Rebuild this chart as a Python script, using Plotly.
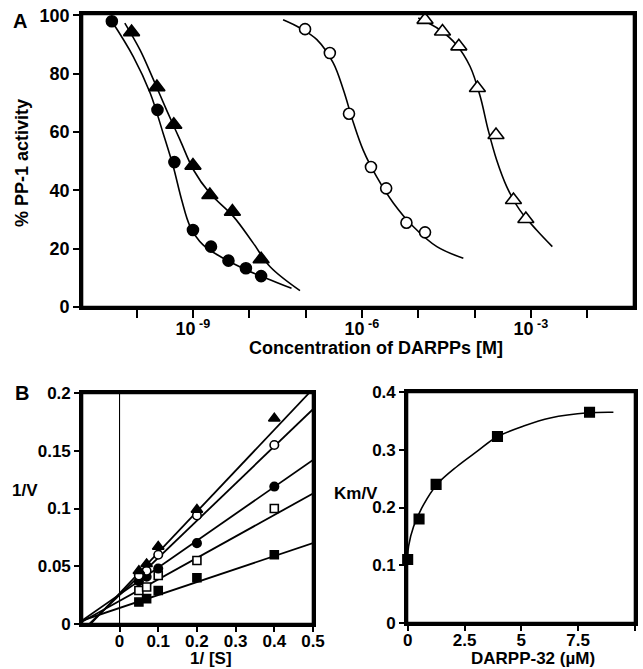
import plotly.graph_objects as go

# ---------------- Panel A data (log10 concentration, % activity) ----------------
a_fc_x = [-10.44, -9.63, -9.33, -9.0, -8.68, -8.37, -8.06, -7.79]
a_fc_y = [98, 67.6, 49.7, 26.4, 20.7, 15.9, 13.3, 10.6]
a_ft_x = [-10.09, -9.64, -9.34, -9.0, -8.70, -8.30, -7.79]
a_ft_y = [94.3, 75.4, 62.5, 48.5, 38.4, 32.7, 16.4]
a_oc_x = [-7.01, -6.57, -6.23, -5.84, -5.57, -5.21, -4.88]
a_oc_y = [95.3, 87.1, 66.3, 48.0, 40.7, 28.9, 25.6]
a_ot_x = [-4.88, -4.57, -4.28, -3.95, -3.62, -3.31, -3.09]
a_ot_y = [98.5, 94.5, 89.4, 75.1, 59.0, 36.7, 30.2]

# fitted curves
c_fc_x = [-10.44, -10.06, -9.76, -9.53, -9.35, -9.20, -9.05, -8.82, -8.46, -8.05, -7.69, -7.25]
c_fc_y = [98, 85.9, 73.4, 59.6, 48.2, 36.7, 27.6, 21.3, 16.7, 12.7, 9.8, 6.4]
c_ft_x = [-10.21, -9.94, -9.70, -9.47, -9.23, -8.99, -8.70, -8.28, -7.93, -7.63, -7.10]
c_ft_y = [97.4, 88.2, 77.9, 67.6, 57.3, 47.0, 39.0, 31.0, 21.9, 13.8, 5.6]
c_oc_x = [-7.40, -7.10, -6.80, -6.51, -6.33, -6.15, -5.98, -5.74, -5.44, -5.09, -4.67, -4.20]
c_oc_y = [98.5, 95.7, 91.7, 83.7, 74.5, 63.1, 53.9, 44.7, 35.6, 27.6, 20.7, 16.7]
c_ot_x = [-5.0, -4.62, -4.32, -4.08, -3.90, -3.76, -3.61, -3.43, -3.20, -2.90, -2.62]
c_ot_y = [99.1, 95.1, 89.9, 82.5, 72.2, 60.8, 50.5, 41.3, 33.3, 26.4, 20.7]

a_minor_exp = [-11, -10, -9, -8, -7, -6, -5, -4, -3, -2]
a_label_exp = [-9, -6, -3]
a_label_text = ["10<sup> -9</sup>", "10<sup> -6</sup>", "10<sup> -3</sup>"]

# ---------------- Panel B left (Lineweaver-Burk) ----------------
b_x = [0.05, 0.07, 0.1, 0.2, 0.4]
b_ft = [0.046, 0.052, 0.067, 0.099, 0.178]
b_oc = [0.042, 0.046, 0.060, 0.094, 0.155]
b_fc = [0.037, 0.041, 0.048, 0.070, 0.119]
b_os = [0.029, 0.032, 0.042, 0.055, 0.100]
b_fs = [0.019, 0.022, 0.029, 0.040, 0.060]
# fitted line ends
l_ft_x = [-0.075, 0.49]; l_ft_y = [0.0, 0.2]
l_oc_x = [-0.078, 0.5]; l_oc_y = [0.0, 0.186]
l_fc_x = [-0.097, 0.5]; l_fc_y = [0.003, 0.142]
l_os_x = [-0.097, 0.5]; l_os_y = [0.002, 0.113]
l_fs_x = [-0.097, 0.5]; l_fs_y = [0.003, 0.070]

# ---------------- Panel B right (Km/V vs DARPP-32) ----------------
r_x = [0, 0.5, 1.25, 3.95, 8]
r_y = [0.11, 0.18, 0.24, 0.323, 0.365]
rc_x = [0.0, 0.04, 0.26, 0.70, 1.29, 2.17, 3.05, 3.92, 5.1, 6.27, 7.95, 9.05]
rc_y = [0.115, 0.133, 0.167, 0.205, 0.240, 0.271, 0.297, 0.322, 0.341, 0.355, 0.364, 0.365]

W, H = 643, 669
def px(x): return x / W
def py(y): return 1 - y / H

fig = go.Figure()
K = "black"
LW = 1.6

def curve(x, y, xa, ya, lw=LW):
    fig.add_trace(go.Scatter(x=x, y=y, mode="lines", line=dict(color=K, width=lw, shape="spline", smoothing=1.0),
                             xaxis=xa, yaxis=ya, showlegend=False, hoverinfo="skip"))

def line(x, y, xa, ya, lw=1.8):
    fig.add_trace(go.Scatter(x=x, y=y, mode="lines", line=dict(color=K, width=lw),
                             xaxis=xa, yaxis=ya, showlegend=False, hoverinfo="skip"))

def pts(x, y, sym, filled, size, xa, ya):
    fig.add_trace(go.Scatter(x=x, y=y, mode="markers",
                             marker=dict(symbol=sym, size=size, color=K if filled else "white",
                                         line=dict(color=K, width=1.6)),
                             xaxis=xa, yaxis=ya, showlegend=False, cliponaxis=False))

# Panel A (x uses 10**exponent on a log axis)
tenp = lambda L: [10 ** v for v in L]
for cx, cy in [(c_fc_x, c_fc_y), (c_ft_x, c_ft_y), (c_oc_x, c_oc_y), (c_ot_x, c_ot_y)]:
    curve(tenp(cx), cy, "x", "y")
pts(tenp(a_fc_x), a_fc_y, "circle", True, 11, "x", "y")
pts(tenp(a_ft_x), a_ft_y, "triangle-up", True, 14, "x", "y")
pts(tenp(a_oc_x), a_oc_y, "circle", False, 11, "x", "y")
pts(tenp(a_ot_x), a_ot_y, "triangle-up", False, 14, "x", "y")

# Panel B left
for lx, ly in [(l_ft_x, l_ft_y), (l_oc_x, l_oc_y), (l_fc_x, l_fc_y), (l_os_x, l_os_y), (l_fs_x, l_fs_y)]:
    line(lx, ly, "x2", "y2")
pts(b_x, b_fs, "square", True, 8, "x2", "y2")
pts(b_x, b_os, "square", False, 8, "x2", "y2")
pts(b_x, b_fc, "circle", True, 8.5, "x2", "y2")
pts(b_x, b_oc, "circle", False, 8.5, "x2", "y2")
pts(b_x, b_ft, "triangle-up", True, 10, "x2", "y2")

# Panel B right
curve(rc_x, rc_y, "x3", "y3")
pts(r_x, r_y, "square", True, 9.5, "x3", "y3")

FAM = "Liberation Sans, Arial, sans-serif"
font = dict(family=FAM, size=17, color=K, weight="bold")
fontA = dict(family=FAM, size=18, color=K, weight="bold")
ax = dict(showgrid=False, zeroline=False, showline=True, linecolor=K, linewidth=2.6, mirror=True,
          ticks="outside", tickcolor=K, tickwidth=2, ticklen=7, tickfont=font, automargin=False)

fig.update_layout(
    width=W, height=H, autosize=False, margin=dict(l=0, r=0, t=0, b=0, pad=0),
    paper_bgcolor="white", plot_bgcolor="white", font=font, showlegend=False,
    xaxis=dict(ax, type="log", range=[-10.97, -1.17], domain=[px(82), px(634)], anchor="y",
               tickmode="array", tickvals=tenp(a_label_exp), ticktext=a_label_text, ticklen=8,
               tickfont=fontA, ticklabelstandoff=-4,
               minor=dict(tickmode="array", tickvals=tenp(a_minor_exp), ticks="outside", ticklen=8,
                          tickwidth=2, tickcolor=K, showgrid=False)),
    yaxis=dict(ax, range=[0, 100.5], domain=[py(307), py(14)], anchor="x",
               tickmode="array", tickvals=[0, 20, 40, 60, 80, 100], ticklen=6, tickfont=fontA),
    xaxis2=dict(ax, range=[-0.097, 0.5], domain=[px(82), px(313)], anchor="y2", tickmode="array",
                tickvals=[0, 0.1, 0.2, 0.3, 0.4, 0.5], ticktext=["0", "0.1", "0.2", "0.3", "0.4", "0.5"],
                ticklen=5, ticklabelstandoff=-5),
    yaxis2=dict(ax, range=[0, 0.2], domain=[py(624), py(393)], anchor="x2", tickmode="array",
                tickvals=[0, 0.05, 0.1, 0.15, 0.2], ticktext=["0", "0.05", "0.1", "0.15", "0.2"], ticklen=5),
    xaxis3=dict(ax, range=[-0.03, 10], domain=[px(407), px(635)], anchor="y3", tickmode="array",
                tickvals=[0, 2.5, 5, 7.5, 10], ticktext=["0", "2.5", "5", "7.5", "10"],
                ticklen=5, ticklabelstandoff=-5),
    yaxis3=dict(ax, range=[0, 0.4], domain=[py(623), py(392)], anchor="x3", tickmode="array",
                tickvals=[0, 0.1, 0.2, 0.3, 0.4], ticktext=["0", "0.1", "0.2", "0.3", "0.4"], ticklen=5),
)

# frames (drawn explicitly as well)
for xa, ya in [("x", "y"), ("x2", "y2"), ("x3", "y3")]:
    fig.add_shape(type="rect", xref=f"{xa} domain", yref=f"{ya} domain", x0=0, x1=1, y0=0, y1=1,
                  line=dict(color=K, width=2.6), fillcolor="rgba(0,0,0,0)", layer="above")

fig.add_shape(type="line", xref="x2", yref="y2 domain", x0=0, x1=0, y0=0, y1=1,
              line=dict(color=K, width=1.1), layer="below")

def ann(text, x, y, size=17, angle=0, yanchor="middle"):
    fig.add_annotation(text=text, x=px(x), y=py(y), xref="paper", yref="paper", showarrow=False,
                       textangle=angle, xanchor="center", yanchor=yanchor, borderpad=0,
                       font=dict(family=FAM, size=size, color=K, weight="bold"))

ann("A", 20, 21, 20)
ann("% PP-1 activity", 22, 163, 18, -90)
ann("Concentration of DARPPs [M]", 376, 348, 18)
ann("B", 22, 393, 20)
ann("1/V", 25, 490, 17)
ann("1/ [S]", 211, 668.5, 17, yanchor="bottom")
ann("Km/V", 356, 494, 17)
ann("DARPP-32 (µM)", 533, 668.5, 17, yanchor="bottom")

fig.write_html("out.html", config={"displayModeBar": False},
               post_script="document.body.style.margin='0';document.body.style.padding='0';")
